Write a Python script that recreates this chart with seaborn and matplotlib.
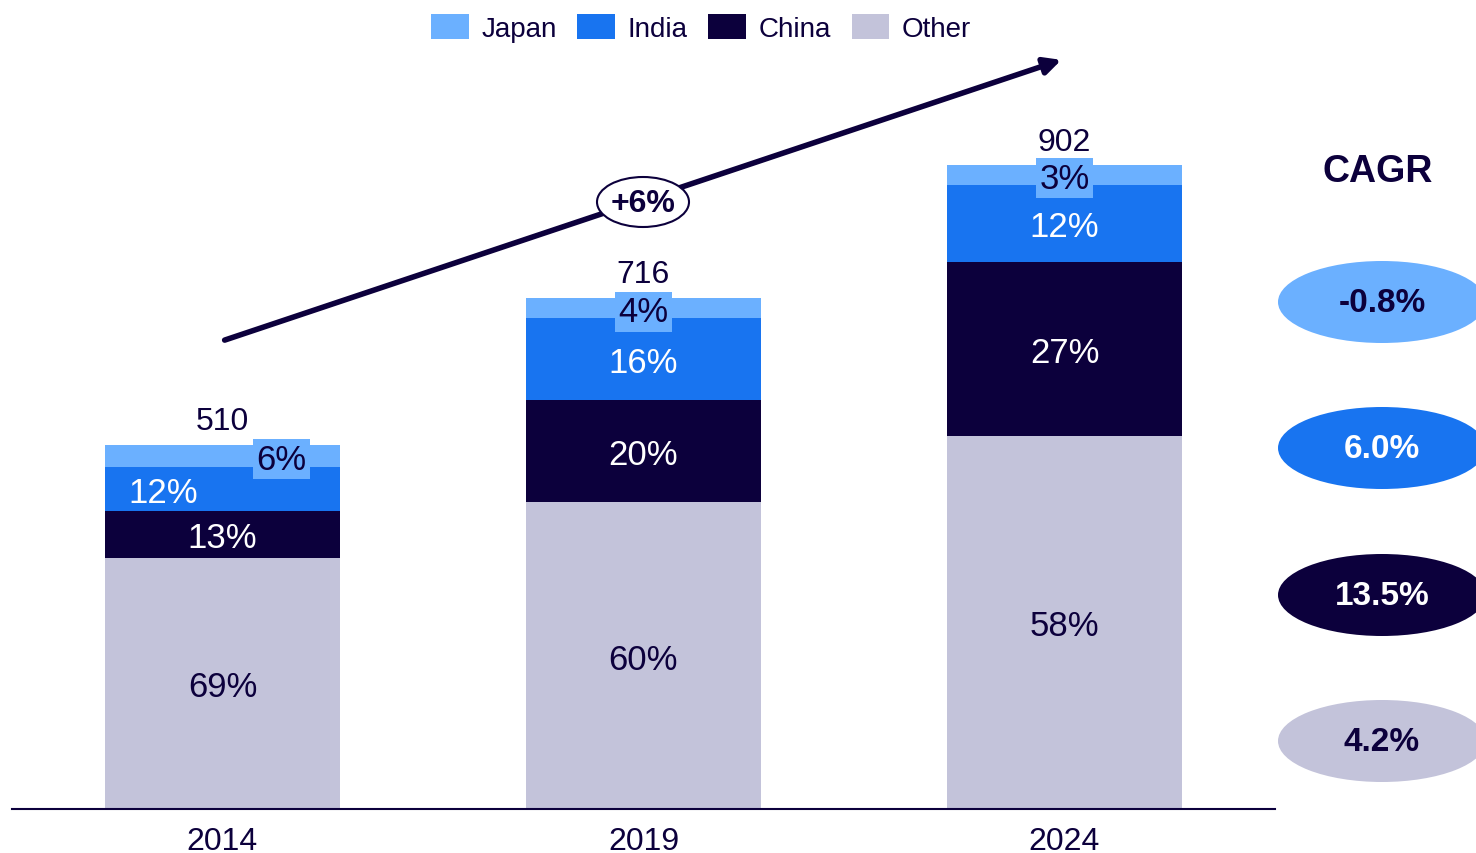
import pandas as pd
import matplotlib.pyplot as plt
import seaborn as sns
from matplotlib.patches import Patch, Ellipse

# dados
anos = ['2014', '2019', '2024']
totais = [510, 716, 902]
regioes = ['Japan', 'India', 'China', 'Other']
share_japan = [6, 4, 3]
share_india = [12, 16, 12]
share_china = [13, 20, 27]
share_other = [69, 60, 58]
cagr = ['-0.8%', '6.0%', '13.5%', '4.2%']
cagr_total = '+6%'

cores = {'Japan': '#6BB0FF', 'India': '#1874F0', 'China': '#0C003C', 'Other': '#C3C3DA'}
texto = '#0C003C'

plt.rcParams['font.family'] = ['Liberation Sans', 'DejaVu Sans']

shares = {'Japan': share_japan, 'India': share_india, 'China': share_china, 'Other': share_other}
base = pd.DataFrame({'ano': anos, 'total': totais})
for r in regioes:
    base[r] = [s / 100 * t for s, t in zip(shares[r], totais)]

# empilhamento: de baixo para cima Other, China, India, Japan
ordem = ['Other', 'China', 'India', 'Japan']
acum = base[ordem].cumsum(axis=1)

fig = plt.figure(figsize=(14.76, 8.54), dpi=100)
ax = fig.add_axes([12 / 1476, 44 / 854, 1263 / 1476, 810 / 854])

for r in reversed(ordem):
    sns.barplot(x=base['ano'], y=acum[r], color=cores[r], width=0.556,
                saturation=1, ax=ax, order=anos)

ax.set_xlim(-0.5, 2.5)
ax.set_ylim(0, 810 / 0.7137)
for s in ['top', 'right', 'left']:
    ax.spines[s].set_visible(False)
ax.spines['bottom'].set_color(texto)
ax.spines['bottom'].set_linewidth(1.5)
ax.set_yticks([])
ax.set_xlabel('')
ax.set_ylabel('')
ax.tick_params(axis='x', length=0, labelsize=23, labelcolor=texto, pad=12)

# rótulos dos segmentos
for i, ano in enumerate(anos):
    fundo = 0
    for r in ordem:
        v = base.loc[i, r]
        meio = fundo + v / 2
        rotulo = f"{shares[r][i]}%"
        if r == 'Japan':
            x = i + 0.14 if i == 0 else i
            ax.text(x, meio, rotulo, ha='center', va='center_baseline', fontsize=25, color=texto,
                    bbox=dict(boxstyle='square,pad=0.1', fc=cores['Japan'], ec='none'))
        elif r == 'India' and i == 0:
            ax.text(i - 0.14, meio, rotulo, ha='center', va='center_baseline', fontsize=25, color='white')
        else:
            cor = 'white' if r in ('India', 'China') else texto
            ax.text(i, meio, rotulo, ha='center', va='center_baseline', fontsize=25, color=cor)
        fundo += v
    ax.text(i, totais[i] + 38, str(totais[i]), ha='center', va='center_baseline', fontsize=23, color=texto)

# camada de anotações em pixels
ov = fig.add_axes([0, 0, 1, 1])
ov.set_xlim(0, 1476)
ov.set_ylim(854, 0)
ov.axis('off')
ov.patch.set_alpha(0)

ov.annotate('', xy=(1064, 60), xytext=(222, 342),
            arrowprops=dict(arrowstyle='-|>,head_length=1.0,head_width=0.5', color=texto, lw=4))
ov.add_patch(Ellipse((643, 203), 92, 50, fc='white', ec=texto, lw=1.5, zorder=3))
ov.text(643, 204, cagr_total, ha='center', va='center', fontsize=23, fontweight='bold',
        color=texto, zorder=4)

ov.text(1378, 172, 'CAGR', ha='center', va='center', fontsize=27, fontweight='bold', color=texto)
centros_y = [303, 449, 596, 742]
for r, c, y in zip(regioes, cagr, centros_y):
    ov.add_patch(Ellipse((1382, y), 208, 82, fc=cores[r], ec='none', clip_on=False))
    cor = 'white' if r in ('India', 'China') else texto
    ov.text(1382, y + 1, c, ha='center', va='center', fontsize=24, fontweight='bold', color=cor)

handles = [Patch(facecolor=cores[r], label=r) for r in regioes]
fig.legend(handles=handles, loc='center', bbox_to_anchor=(701 / 1476, 1 - 29 / 854), ncol=4,
           frameon=False, fontsize=20, handlelength=1.35, handleheight=1.0,
           columnspacing=0.75, handletextpad=0.45, labelcolor=texto)

fig.savefig('out.png', dpi=100)
